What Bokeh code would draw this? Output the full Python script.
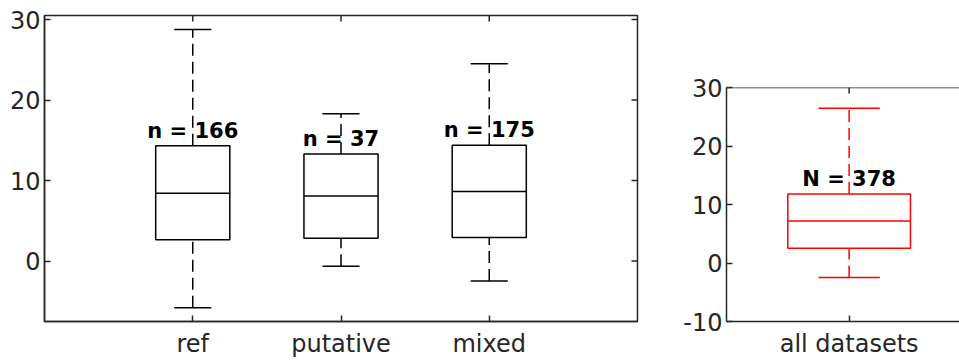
import math
from bokeh.plotting import figure
from bokeh.layouts import row, column
from bokeh.models import FixedTicker, Range1d, ColumnDataSource, Span, Spacer
from bokeh.embed import file_html
from bokeh.resources import INLINE
from bokeh.core.properties import value

# ---- data ----
categories = ["ref", "putative", "mixed"]
q1 = [2.64, 2.84, 2.93]
median = [8.44, 8.07, 8.64]
q3 = [14.32, 13.3, 14.4]
whisker_low = [-5.8, -0.65, -2.47]
whisker_high = [28.77, 18.3, 24.5]
counts = [166, 37, 175]

all_category = ["all datasets"]
all_q1 = [2.54]
all_median = [7.18]
all_q3 = [11.8]
all_whisker_low = [-2.48]
all_whisker_high = [26.44]
all_count = [378]

left_yticks = [0, 10, 20, 30]
right_yticks = [-10, 0, 10, 20, 30]

AX = "#262626"
FONT = "DejaVu Sans"


def style_axis(ax, ticks, overrides=None, standoff=4):
    ax.ticker = FixedTicker(ticks=ticks)
    ax.minor_tick_line_color = None
    ax.major_tick_in = 6
    ax.major_tick_out = 0
    ax.major_tick_line_color = AX
    ax.major_tick_line_width = 1.5
    ax.axis_line_color = AX
    ax.axis_line_width = 1.5
    ax.major_label_text_font = FONT
    ax.major_label_text_color = AX
    ax.major_label_standoff = standoff
    ax.major_label_text_font_size = "24px"
    ax.major_label_overrides = overrides or {t: str(t) for t in ticks}


def inner_ticks(p, xs, ys, vertical):
    # short inward tick marks on frame edges (the outer half is clipped by the frame)
    p.scatter(x=xs, y=ys, marker="dash", size=12, angle=(math.pi / 2 if vertical else 0),
              line_color=AX, line_width=1.5)


def draw_boxes(p, xs, lo, a, m, b, hi, counts, color, prefix):
    src = ColumnDataSource(dict(
        x=xs,
        left=[x - 0.25 for x in xs], right=[x + 0.25 for x in xs],
        cl=[x - 0.125 for x in xs], cr=[x + 0.125 for x in xs],
        lo=lo, q1=a, med=m, q3=b, hi=hi,
        label=["%s = %d" % (prefix, c) for c in counts],
    ))
    p.segment(x0="x", y0="q3", x1="x", y1="hi", source=src, line_color=color,
              line_width=1.5, line_dash="12 6")
    p.segment(x0="x", y0="lo", x1="x", y1="q1", source=src, line_color=color,
              line_width=1.5, line_dash="12 6")
    p.segment(x0="cl", y0="hi", x1="cr", y1="hi", source=src, line_color=color, line_width=1.5)
    p.segment(x0="cl", y0="lo", x1="cr", y1="lo", source=src, line_color=color, line_width=1.5)
    p.quad(left="left", right="right", bottom="q1", top="q3", source=src,
           fill_color=None, line_color=color, line_width=1.5)
    p.segment(x0="left", y0="med", x1="right", y1="med", source=src, line_color=color, line_width=1.5)
    p.text(x="x", y="q3", text="label", source=src, text_align="center",
           text_baseline="alphabetic", y_offset=-15, text_font=value(FONT), text_font_style="bold",
           text_font_size="21px", text_color="black")


# ---- left panel ----
xs = [i + 1 for i in range(len(categories))]
x1r = Range1d(0, 4)
y1r = Range1d(-7.5, 30.5)
p1 = figure(width=680, height=360, x_range=x1r, y_range=y1r,
            output_backend="svg", toolbar_location=None,
            min_border_left=44, min_border_right=43, min_border_top=15, min_border_bottom=36)
p1.grid.visible = False
p1.outline_line_color = AX
p1.outline_line_width = 1.5
p1.background_fill_color = "white"
p1.border_fill_color = "white"
style_axis(p1.yaxis[0], left_yticks)
style_axis(p1.xaxis[0], xs, overrides={x: c for x, c in zip(xs, categories)}, standoff=8)
inner_ticks(p1, [x1r.end] * len(left_yticks), left_yticks, False)
inner_ticks(p1, xs, [y1r.end] * len(xs), True)
draw_boxes(p1, xs, whisker_low, q1, median, q3, whisker_high, counts, "black", "n")

# ---- right panel ----
xs2 = [1]
x2r = Range1d(0.5, 1.45)
y2r = Range1d(-10, 30)
p2 = figure(width=279, height=288, x_range=x2r, y_range=y2r,
            output_backend="svg", toolbar_location=None,
            min_border_left=45, min_border_right=0, min_border_top=15, min_border_bottom=38)
p2.grid.visible = False
p2.outline_line_color = None
p2.background_fill_color = "white"
p2.border_fill_color = "white"
style_axis(p2.yaxis[0], right_yticks, overrides={t: str(t).replace("\u2212", "-") for t in right_yticks})
style_axis(p2.xaxis[0], xs2, overrides={1: all_category[0]}, standoff=8)
p2.add_layout(Span(location=y2r.end, dimension="width", line_color=AX, line_width=1.5))
inner_ticks(p2, xs2, [y2r.end], True)
draw_boxes(p2, xs2, all_whisker_low, all_q1, all_median, all_q3, all_whisker_high,
           all_count, "#ff0000", "N")

layout = row(p1, column(Spacer(width=279, height=72), p2))
open("out.html", "w").write(file_html(layout, INLINE))
